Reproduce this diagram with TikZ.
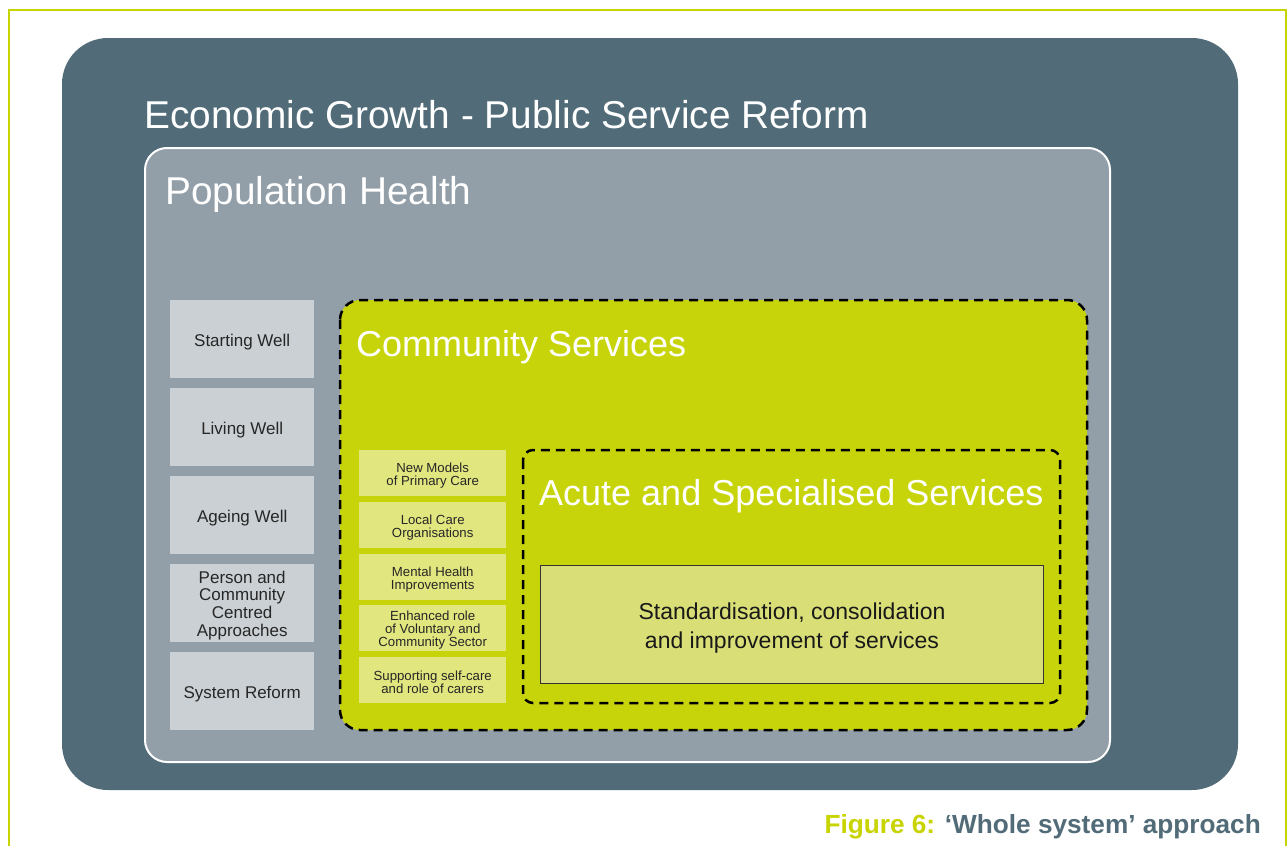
\documentclass[tikz,border=0pt]{standalone}
\usepackage{fontspec}
\setmainfont{Liberation Sans}
\definecolor{frameg}{RGB}{200,212,0}
\definecolor{slate}{RGB}{81,108,120}
\definecolor{popg}{RGB}{146,159,168}
\definecolor{lgray}{RGB}{203,208,212}
\definecolor{commy}{RGB}{200,212,10}
\definecolor{lyel}{RGB}{225,230,127}
\definecolor{inny}{RGB}{217,223,118}
\definecolor{captg}{RGB}{81,108,120}
\begin{document}
\begin{tikzpicture}[x=1pt,y=-1pt,
  bigtitle/.style={anchor=west,text=white,font=\fontsize{38.8}{44}\selectfont,inner sep=0pt},
  midtitle/.style={anchor=west,text=white,font=\fontsize{36}{40}\selectfont,inner sep=0pt},
  graybox/.style={fill=lgray,draw=none,anchor=north west,minimum width=144pt,minimum height=78pt,inner sep=0pt},
  graytext/.style={inner sep=0pt,align=center,font=\fontsize{17}{17.7}\selectfont,text=black!85},
  yelbox/.style={fill=lyel,draw=none,anchor=north west,minimum width=147pt,minimum height=46pt,inner sep=0pt},
  yeltext/.style={inner sep=0pt,align=center,font=\fontsize{13.2}{12.9}\selectfont,text=black!85},
  dashedbox/.style={draw=black,line width=2.5pt,dash pattern=on 9pt off 6pt}
]
\useasboundingbox (0,0) rectangle (1288,846);
\fill[white] (0,0) rectangle (1288,846);
% outer frame
\draw[frameg,line width=2.5pt] (9,846) -- (9,10) -- (1286,10) -- (1286,846);
% economic growth
\fill[slate,rounded corners=46pt] (62,38) rectangle (1238,790);
\node[bigtitle] (econ) at (144,115) {Economic Growth - Public Service Reform};
% population health
\draw[white,line width=2pt,fill=popg,rounded corners=22pt] (145,148) rectangle (1110,762);
\node[bigtitle] (pop) at (165,194) {Population Health};
% left boxes
\node[graybox] (sw) at (170,300) {};
\node[graybox] (lw) at (170,388) {};
\node[graybox] (aw) at (170,476) {};
\node[graybox] (pc) at (170,564) {};
\node[graybox] (sr) at (170,652) {};
\node[graytext] (swt) at ([yshift=-3pt]sw.center) {Starting Well};
\node[graytext] (lwt) at ([yshift=-3pt]lw.center) {Living Well};
\node[graytext] (awt) at ([yshift=-3pt]aw.center) {Ageing Well};
\node[graytext] (pct) at ([yshift=-2pt]pc.center) {Person and\\Community\\Centred\\Approaches};
\node[graytext] (srt) at ([yshift=-3pt]sr.center) {System Reform};
% community services
\fill[commy,rounded corners=20pt] (340,300) rectangle (1087,730);
\draw[dashedbox,rounded corners=20pt] (340,300) rectangle (1087,730);
\node[midtitle] (cs) at (356,347) {Community Services};
% yellow boxes
\node[yelbox] (nm) at (359,450) {};
\node[yelbox] (lc) at (359,502) {};
\node[yelbox] (mh) at (359,554) {};
\node[yelbox] (er) at (359,605) {};
\node[yelbox] (sc) at (359,657) {};
\node[yeltext] (nmt) at ([yshift=-2.5pt]nm.center) {New Models\\of Primary Care};
\node[yeltext] (lct) at ([yshift=-2.5pt]lc.center) {Local Care\\Organisations};
\node[yeltext] (mht) at ([yshift=-2.5pt]mh.center) {Mental Health\\Improvements};
\node[yeltext] (ert) at ([yshift=-2pt]er.center) {Enhanced role\\of Voluntary and\\Community Sector};
\node[yeltext] (sct) at ([yshift=-2.5pt]sc.center) {Supporting self-care\\and role of carers};
% acute
\draw[dashedbox,rounded corners=10pt] (523,450) rectangle (1060,703);
\node[midtitle] (ac) at (539,496) {Acute and Specialised Services};
\node[draw=black!80,line width=1pt,fill=inny,anchor=north west,minimum width=503pt,minimum height=118pt,inner sep=0pt] (st) at (540,565) {};
\node[inner sep=0pt,align=center,font=\fontsize{23}{29}\selectfont,text=black!90] (stt) at ([yshift=-4pt]st.center) {Standardisation, consolidation\\and improvement of services};
% caption
\node[anchor=base east,inner sep=0pt,font=\bfseries\fontsize{26.2}{30}\selectfont] (cap) at (1261,833) {\textcolor{frameg}{Figure 6:} \textcolor{captg}{‘Whole system’ approach}};
\end{tikzpicture}
\end{document}
